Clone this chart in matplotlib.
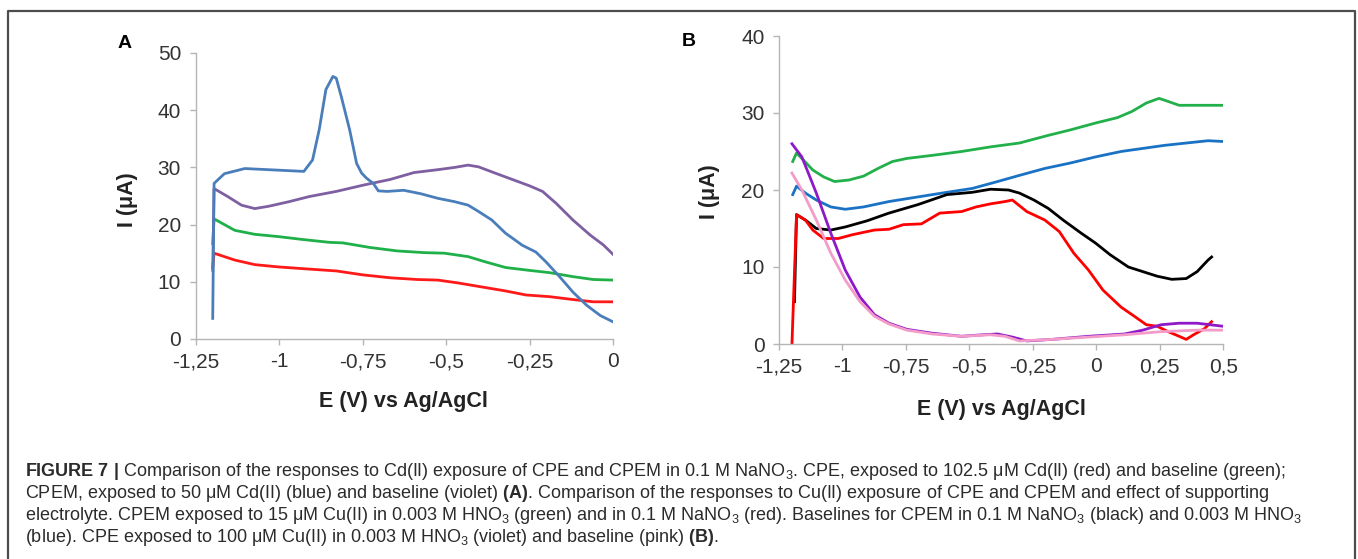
import matplotlib
matplotlib.use('Agg')
import matplotlib.pyplot as plt

plt.rcParams['font.family'] = ['Liberation Sans', 'DejaVu Sans']
plt.rcParams['mathtext.fontset'] = 'custom'
plt.rcParams['mathtext.rm'] = 'Liberation Sans'
plt.rcParams['mathtext.it'] = 'Liberation Sans:italic'
plt.rcParams['mathtext.bf'] = 'Liberation Sans:bold'

# ---- panel A data (E in V, I in uA) ----
a_blue_e = [-1.199, -1.195, -1.164, -1.103, -0.926, -0.90, -0.88, -0.86, -0.839, -0.829, -0.814,
            -0.789, -0.768, -0.753, -0.738, -0.718, -0.703, -0.677, -0.627, -0.576, -0.525, -0.474,
            -0.434, -0.403, -0.363, -0.322, -0.272, -0.231, -0.201, -0.16, -0.12, -0.079, -0.038, 0.0]
a_blue_i = [3.6, 27.2, 28.9, 29.8, 29.3, 31.3, 36.6, 43.6, 45.9, 45.6, 42.4,
            36.6, 30.7, 29.0, 28.1, 27.2, 25.9, 25.8, 26.0, 25.4, 24.6, 24.0,
            23.4, 22.3, 20.8, 18.5, 16.4, 15.2, 13.5, 10.9, 8.2, 5.9, 4.1, 3.0]

a_violet_e = [-1.199, -1.195, -1.154, -1.113, -1.073, -1.032, -0.971, -0.91, -0.829, -0.748, -0.667,
              -0.596, -0.525, -0.474, -0.434, -0.403, -0.353, -0.302, -0.251, -0.211, -0.17, -0.12,
              -0.069, -0.028, 0.0]
a_violet_i = [12.0, 26.3, 24.9, 23.4, 22.8, 23.2, 24.0, 24.9, 25.8, 26.9, 27.9,
              29.1, 29.6, 30.0, 30.4, 30.1, 29.0, 27.9, 26.8, 25.8, 23.7, 20.8,
              18.2, 16.4, 14.8]

a_green_e = [-1.199, -1.195, -1.133, -1.073, -1.002, -0.93, -0.85, -0.809, -0.728, -0.647, -0.566,
             -0.505, -0.434, -0.383, -0.322, -0.251, -0.19, -0.12, -0.059, 0.0]
a_green_i = [16.7, 21.0, 19.0, 18.3, 17.9, 17.4, 16.9, 16.8, 16.0, 15.4, 15.1,
             15.0, 14.4, 13.5, 12.5, 12.0, 11.6, 10.9, 10.4, 10.3]

a_red_e = [-1.199, -1.195, -1.133, -1.073, -1.002, -0.93, -0.829, -0.748, -0.667, -0.586, -0.525,
           -0.464, -0.393, -0.322, -0.261, -0.19, -0.12, -0.059, 0.0]
a_red_i = [12.5, 15.0, 13.8, 13.0, 12.6, 12.3, 11.9, 11.2, 10.7, 10.4, 10.3,
           9.8, 9.1, 8.4, 7.7, 7.4, 6.9, 6.5, 6.5]

# ---- panel B data ----
b_green_e = [-1.196, -1.181, -1.16, -1.117, -1.074, -1.031, -0.974, -0.917, -0.86, -0.803, -0.746,
             -0.646, -0.531, -0.417, -0.303, -0.189, -0.103, -0.003, 0.083, 0.14, 0.197, 0.247,
             0.283, 0.326, 0.397, 0.5]
b_green_i = [23.7, 24.8, 24.1, 22.6, 21.7, 21.1, 21.3, 21.8, 22.8, 23.7, 24.1,
             24.5, 25.0, 25.6, 26.1, 27.1, 27.8, 28.7, 29.4, 30.2, 31.3, 31.9,
             31.5, 31.0, 31.0, 31.0]

b_blue_e = [-1.196, -1.181, -1.146, -1.103, -1.046, -0.989, -0.917, -0.817, -0.703, -0.589, -0.489,
            -0.389, -0.303, -0.203, -0.103, -0.003, 0.097, 0.183, 0.269, 0.354, 0.44, 0.5]
b_blue_i = [19.4, 20.5, 19.6, 18.7, 17.8, 17.5, 17.8, 18.5, 19.1, 19.7, 20.2,
            21.1, 21.9, 22.8, 23.5, 24.3, 25.0, 25.4, 25.8, 26.1, 26.4, 26.3]

b_black_e = [-1.189, -1.181, -1.146, -1.103, -1.046, -0.989, -0.903, -0.817, -0.703, -0.589, -0.489,
             -0.417, -0.346, -0.303, -0.246, -0.189, -0.131, -0.06, -0.003, 0.054, 0.126, 0.183,
             0.24, 0.297, 0.354, 0.397, 0.44, 0.454]
b_black_i = [5.5, 16.8, 16.1, 15.0, 14.8, 15.2, 16.0, 17.0, 18.1, 19.4, 19.7,
             20.1, 20.0, 19.6, 18.7, 17.6, 16.1, 14.4, 13.1, 11.6, 10.0, 9.4,
             8.8, 8.4, 8.5, 9.4, 10.9, 11.3]

b_red_e = [-1.199, -1.181, -1.146, -1.117, -1.074, -1.017, -0.96, -0.874, -0.817, -0.76, -0.689,
           -0.617, -0.531, -0.474, -0.417, -0.36, -0.331, -0.274, -0.203, -0.146, -0.089, -0.031,
           0.026, 0.097, 0.154, 0.197, 0.24, 0.283, 0.326, 0.354, 0.383, 0.426, 0.454]
b_red_i = [0.0, 16.8, 16.1, 14.8, 13.7, 13.7, 14.2, 14.8, 14.9, 15.5, 15.6,
           17.0, 17.2, 17.8, 18.2, 18.5, 18.7, 17.2, 16.1, 14.6, 11.8, 9.6,
           7.0, 4.8, 3.5, 2.5, 2.3, 1.6, 1.0, 0.6, 1.2, 2.0, 2.9]

b_violet_e = [-1.199, -1.16, -1.103, -1.046, -0.989, -0.931, -0.874, -0.817, -0.746, -0.646, -0.531,
              -0.446, -0.389, -0.331, -0.274, -0.174, -0.031, 0.111, 0.183, 0.254, 0.326, 0.397, 0.5]
b_violet_i = [26.0, 24.3, 19.6, 14.4, 9.6, 6.1, 3.8, 2.7, 1.9, 1.4, 1.0,
              1.2, 1.3, 0.9, 0.4, 0.6, 1.0, 1.3, 1.8, 2.5, 2.7, 2.7, 2.3]

b_pink_e = [-1.199, -1.16, -1.103, -1.046, -0.989, -0.931, -0.874, -0.817, -0.746, -0.646, -0.531,
            -0.417, -0.36, -0.303, -0.174, -0.031, 0.111, 0.254, 0.397, 0.5]
b_pink_i = [22.2, 20.0, 16.1, 11.8, 8.3, 5.5, 3.6, 2.6, 1.8, 1.3, 1.0,
            1.2, 1.0, 0.4, 0.6, 0.9, 1.2, 1.6, 1.8, 1.8]

a_xticks = [-1.25, -1.0, -0.75, -0.5, -0.25, 0.0]
a_xlabels = ['-1,25', '-1', '-0,75', '-0,5', '-0,25', '0']
a_yticks = [0, 10, 20, 30, 40, 50]
b_xticks = [-1.25, -1.0, -0.75, -0.5, -0.25, 0.0, 0.25, 0.5]
b_xlabels = ['-1,25', '-1', '-0,75', '-0,5', '-0,25', '0', '0,25', '0,5']
b_yticks = [0, 10, 20, 30, 40]

caption = [
    r'$\mathbf{FIGURE\ 7\ |}$ Comparison of the responses to Cd(II) exposure of CPE and CPEM in 0.1 M NaNO$_3$. '
    r'CPE, exposed to 102.5 μM Cd(II) (red) and baseline (green);',
    r'CPEM, exposed to 50 μM Cd(II) (blue) and baseline (violet) $\mathbf{(A)}$. Comparison of the responses to '
    r'Cu(II) exposure of CPE and CPEM and effect of supporting',
    r'electrolyte. CPEM exposed to 15 μM Cu(II) in 0.003 M HNO$_3$ (green) and in 0.1 M NaNO$_3$ (red). '
    r'Baselines for CPEM in 0.1 M NaNO$_3$ (black) and 0.003 M HNO$_3$',
    r'(blue). CPE exposed to 100 μM Cu(II) in 0.003 M HNO$_3$ (violet) and baseline (pink) $\mathbf{(B)}$.',
]

W, H = 1358, 559
fig = plt.figure(figsize=(W / 100, H / 100), dpi=100)


def px(x0, y0, x1, y1):
    # pixel box (top-left origin) -> axes rect
    return [x0 / W, 1 - y1 / H, (x1 - x0) / W, (y1 - y0) / H]


def style(ax, xt, xl, yt):
    for s in ['top', 'right']:
        ax.spines[s].set_visible(False)
    for s in ['left', 'bottom']:
        ax.spines[s].set_color('#b5b5b5')
        ax.spines[s].set_linewidth(1.0)
    ax.set_xticks(xt, xl)
    ax.set_yticks(yt)
    ax.tick_params(direction='out', length=4.5, width=1, color='#b5b5b5',
                   labelsize=15, labelcolor='#333333')
    ax.tick_params(axis='x', pad=5)
    ax.tick_params(axis='y', pad=6)


lw = 2.0
axA = fig.add_axes(px(195.7, 53, 613, 339))
axA.plot(a_red_e, a_red_i, color='#ff1a1a', lw=lw)
axA.plot(a_green_e, a_green_i, color='#1fb04a', lw=lw)
axA.plot(a_violet_e, a_violet_i, color='#7e5fa1', lw=lw)
axA.plot(a_blue_e, a_blue_i, color='#4a7ebb', lw=lw)
axA.set_xlim(-1.25, 0)
axA.set_ylim(0, 50)
style(axA, a_xticks, a_xlabels, a_yticks)

axB = fig.add_axes(px(779, 36, 1223.3, 344))
axB.plot(b_green_e, b_green_i, color='#22b04b', lw=lw)
axB.plot(b_blue_e, b_blue_i, color='#1a72c4', lw=lw)
axB.plot(b_black_e, b_black_i, color='#000000', lw=lw)
axB.plot(b_red_e, b_red_i, color='#ff0000', lw=lw)
axB.plot(b_violet_e, b_violet_i, color='#8f18c9', lw=lw)
axB.plot(b_pink_e, b_pink_i, color='#f39bc9', lw=lw)
axB.set_xlim(-1.25, 0.5)
axB.set_ylim(0, 40)
style(axB, b_xticks, b_xlabels, b_yticks)

# axis titles and panel letters
lab = dict(fontsize=15.5, fontweight='bold', color='#222222', ha='center', va='center')
fig.text(127 / W, 1 - 200 / H, 'I (μA)', rotation=90, **lab)
fig.text(403 / W, 1 - 402 / H, 'E (V) vs Ag/AgCl', **lab)
fig.text(710 / W, 1 - 192 / H, 'I (μA)', rotation=90, **lab)
fig.text(1001 / W, 1 - 409 / H, 'E (V) vs Ag/AgCl', **lab)
fig.text(125 / W, 1 - 44 / H, 'A', fontsize=14, fontweight='bold', ha='center', va='center')
fig.text(689 / W, 1 - 42 / H, 'B', fontsize=14, fontweight='bold', ha='center', va='center')

# frame around the figure
fig.add_artist(plt.Line2D([7.5 / W, 7.5 / W, 1355 / W, 1355 / W], [-0.02, 1 - 11 / H, 1 - 11 / H, -0.02],
                          transform=fig.transFigure, color='#4d4d4d', lw=1.6))

# caption, sized so the first line spans like the reference
cap_size = 10.5
texts = []
for k, line in enumerate(caption):
    texts.append(fig.text(25 / W, 1 - (472 + 21.7 * k) / H, line, fontsize=cap_size,
                          color='#2b2b2b', ha='left', va='center'))
fig.canvas.draw()
w0 = texts[0].get_window_extent().width
for t in texts:
    t.set_fontsize(cap_size * 1262 / w0)

fig.savefig('out.png', dpi=100)
